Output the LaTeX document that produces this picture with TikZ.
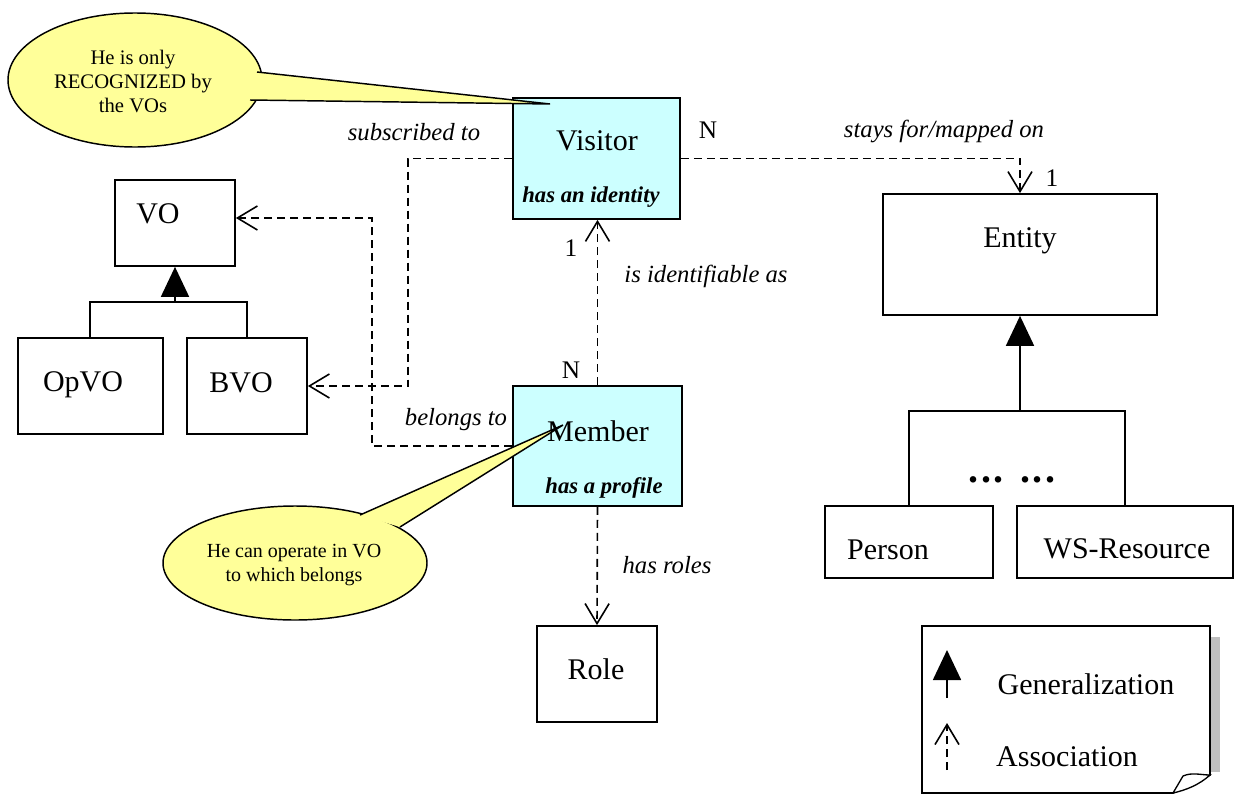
\documentclass[tikz,border=0pt]{standalone}
\usepackage{fontspec}
\setmainfont{Liberation Serif}
\usetikzlibrary{arrows.meta,calc}
\definecolor{boxcyan}{HTML}{CCFFFF}
\definecolor{callyellow}{HTML}{FFFF99}
\definecolor{shadowgray}{HTML}{BFBFBF}
\begin{document}
\begin{tikzpicture}[x=0.75pt,y=-0.75pt,
  box/.style={draw,line width=1.3pt,rectangle,inner sep=0pt},
  cbox/.style={box,fill=boxcyan},
  boxtext/.style={font=\fontsize{22.5}{26}\selectfont,inner sep=0pt},
  tagtext/.style={font=\fontsize{17}{20}\selectfont\bfseries\itshape,inner sep=0pt},
  lab/.style={font=\fontsize{18.5}{22}\selectfont\itshape,inner sep=0pt},
  card/.style={font=\fontsize{19}{22}\selectfont,inner sep=0pt},
  calltext/.style={align=center,inner sep=0pt},
  assoc/.style={dash pattern=on 6pt off 3.75pt,line width=1.2pt,-{Straight Barb[length=15pt,width=18pt,line width=1.2pt]}},
  gen/.style={line width=1.3pt,-{Triangle[length=22.5pt,width=21pt]}},
  tree/.style={line width=1.3pt},
  bubble/.style={draw,line width=1.1pt,fill=callyellow},
]
\useasboundingbox (0,0) rectangle (1234,796);

% ---------- boxes ----------
\node[cbox,minimum width=125.25pt,minimum height=90.75pt] (visitor) at (596.5,158.5) {};
\node[cbox,minimum width=126.75pt,minimum height=90pt] (member) at (597.5,446) {};
\node[box,minimum width=90pt,minimum height=64.5pt] (vo) at (175,223) {};
\node[box,minimum width=108.75pt,minimum height=72pt] (opvo) at (90.5,386) {};
\node[box,minimum width=90pt,minimum height=72pt] (bvo) at (247,386) {};
\node[box,minimum width=205.5pt,minimum height=90.75pt] (entity) at (1020,254.5) {};
\node[box,minimum width=126pt,minimum height=54pt] (person) at (909,542) {};
\node[box,minimum width=162pt,minimum height=54pt] (wsres) at (1125,542) {};
\node[box,minimum width=90pt,minimum height=72pt] (role) at (597,674) {};

% ---------- box texts ----------
\node[boxtext] (visitorT) at (597,141) {Visitor};
\node[tagtext] (visitorI) at (591,197) {has an identity};
\node[boxtext] (memberT) at (598,431) {Member};
\node[tagtext] (memberI) at (604,488) {has a profile};
\node[boxtext] (voT) at (158,214) {VO};
\node[boxtext] (opvoT) at (83,385) {OpVO};
\node[boxtext] (bvoT) at (241,383) {BVO};
\node[boxtext] (entityT) at (1020,241) {Entity};
\node[boxtext] (personT) at (888,550) {Person};
\node[boxtext] (wsresT) at (1127,549) {WS-Resource};
\node[boxtext] (roleT) at (596,669) {Role};
\node[inner sep=0pt,font=\fontsize{30}{32}\selectfont\bfseries\addfontfeature{LetterSpace=6}] (dots) at (1012,480) {... ...};

% ---------- generalization trees ----------
\coordinate (vojoin) at (175,302);
\draw[tree] (opvo.north -| 90,0) |- (vojoin) -| (bvo.north);
\draw[gen] (vojoin) -- (vo.south);

\coordinate (enjoin) at (1020,411);
\draw[tree] (person.north) |- (enjoin) -| (wsres.north);
\draw[gen] (enjoin) -- (entity.south);

% ---------- associations ----------
\draw[assoc] (visitor.east) -| (entity.north);
\draw[assoc] (member.north) -- (member.north |- visitor.south);
\draw[assoc] (visitor.west) -- ++(-104,0) |- (bvo.east);
\draw[assoc] (member.west) -- ++(-140,0) |- ([yshift=3.75pt]vo.east);
\draw[assoc] (member.south) -- (role.north);

% ---------- association labels ----------
\node[lab] (l1) at (414,132) {subscribed to};
\node[lab] (l2) at (944,131) {stays for/mapped on};
\node[lab] (l3) at (706,276) {is identifiable as};
\node[lab] (l4) at (456,420) {belongs to};
\node[lab] (l5) at (667,565) {has roles};
\node[card] (c1) at (708,130) {N};
\node[card] (c2) at (1052,178) {1};
\node[card] (c3) at (571,248) {1};
\node[card] (c4) at (571,370) {N};

% ---------- callouts ----------
\coordinate (t1a) at (257,72);
\coordinate (t1b) at (250,100);
\coordinate (t1tip) at (550,104);
\fill[callyellow] (t1a) -- (t1tip) -- (t1b) -- cycle;
\draw[bubble] (135,80) ellipse [x radius=127, y radius=67];
\fill[callyellow] (t1a) -- (t1tip) -- (t1b) -- cycle;
\draw[line width=1.1pt] (t1a) -- (t1tip) -- (t1b);
\node[calltext,font=\fontsize{15.5}{18}\selectfont] (call1) at (133,81) {He is only\\RECOGNIZED by\\the VOs};

\coordinate (t2a) at (360,515);
\coordinate (t2b) at (400,527);
\coordinate (t2tip) at (563,425);
\fill[callyellow] (t2a) -- (t2tip) -- (t2b) -- cycle;
\draw[bubble] (295,563) ellipse [x radius=132, y radius=57];
\fill[callyellow] (t2a) -- (t2tip) -- (t2b) -- cycle;
\draw[line width=1.1pt] (t2a) -- (t2tip) -- (t2b);
\node[calltext,font=\fontsize{15}{17.4}\selectfont] (call2) at (294,565) {He can operate in VO\\to which belongs};

% ---------- legend ----------
\fill[shadowgray] (1210,637) rectangle (1220,772);
\draw[line width=1.3pt,fill=white] (922,626) -- (1210,626) -- (1210,775) -- (1173,793) -- (922,793) -- cycle;
\draw[line width=1pt,fill=white] (1173,793) -- (1183,776) .. controls (1192,772) and (1201,775) .. (1210,775) .. controls (1199,785) and (1186,790) .. (1173,793);
\coordinate (lg1) at (947,698);
\coordinate (lg2) at (947,650);
\draw[gen] (lg1) -- (lg2);
\coordinate (la1) at (947,770);
\coordinate (la2) at (947,723);
\draw[assoc] (la1) -- (la2);
\node[boxtext] (legG) at (1086,684) {Generalization};
\node[boxtext] (legA) at (1067,757) {Association};
\end{tikzpicture}
\end{document}
